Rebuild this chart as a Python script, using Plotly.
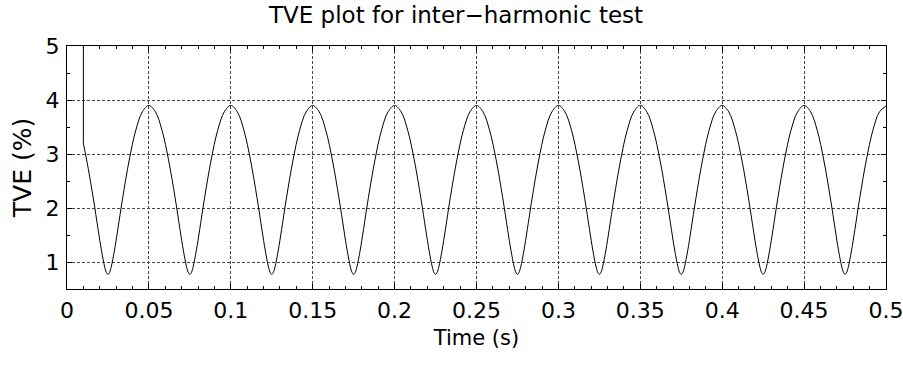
import plotly.graph_objects as go

# Values
start_t = [0.010, 0.010]
start_tve = [6.00, 3.19]

time_s = [
    0.010, 0.012, 0.016, 0.019, 0.021, 0.023, 0.024, 0.025, 0.026, 0.027, 0.029, 0.031, 0.034, 0.038, 0.042, 0.046,
    0.050, 0.054, 0.058, 0.062, 0.066, 0.069, 0.071, 0.073, 0.074, 0.075, 0.076, 0.077, 0.079, 0.081, 0.084, 0.088, 0.092, 0.096,
    0.100, 0.104, 0.108, 0.112, 0.116, 0.119, 0.121, 0.123, 0.124, 0.125, 0.126, 0.127, 0.129, 0.131, 0.134, 0.138, 0.142, 0.146,
    0.150, 0.154, 0.158, 0.162, 0.166, 0.169, 0.171, 0.173, 0.174, 0.175, 0.176, 0.177, 0.179, 0.181, 0.184, 0.188, 0.192, 0.196,
    0.200, 0.204, 0.208, 0.212, 0.216, 0.219, 0.221, 0.223, 0.224, 0.225, 0.226, 0.227, 0.229, 0.231, 0.234, 0.238, 0.242, 0.246,
    0.250, 0.254, 0.258, 0.262, 0.266, 0.269, 0.271, 0.273, 0.274, 0.275, 0.276, 0.277, 0.279, 0.281, 0.284, 0.288, 0.292, 0.296,
    0.300, 0.304, 0.308, 0.312, 0.316, 0.319, 0.321, 0.323, 0.324, 0.325, 0.326, 0.327, 0.329, 0.331, 0.334, 0.338, 0.342, 0.346,
    0.350, 0.354, 0.358, 0.362, 0.366, 0.369, 0.371, 0.373, 0.374, 0.375, 0.376, 0.377, 0.379, 0.381, 0.384, 0.388, 0.392, 0.396,
    0.400, 0.404, 0.408, 0.412, 0.416, 0.419, 0.421, 0.423, 0.424, 0.425, 0.426, 0.427, 0.429, 0.431, 0.434, 0.438, 0.442, 0.446,
    0.450, 0.454, 0.458, 0.462, 0.466, 0.469, 0.471, 0.473, 0.474, 0.475, 0.476, 0.477, 0.479, 0.481, 0.484, 0.488, 0.492, 0.496,
    0.500,
]

tve_pct = [
    3.19, 2.89, 2.19, 1.60, 1.22, 0.91, 0.81, 0.77, 0.81, 0.91, 1.22, 1.60, 2.19, 2.89, 3.44, 3.78,
    3.90, 3.78, 3.44, 2.89, 2.19, 1.60, 1.22, 0.91, 0.81, 0.77, 0.81, 0.91, 1.22, 1.60, 2.19, 2.89, 3.44, 3.78,
    3.90, 3.78, 3.44, 2.89, 2.19, 1.60, 1.22, 0.91, 0.81, 0.77, 0.81, 0.91, 1.22, 1.60, 2.19, 2.89, 3.44, 3.78,
    3.90, 3.78, 3.44, 2.89, 2.19, 1.60, 1.22, 0.91, 0.81, 0.77, 0.81, 0.91, 1.22, 1.60, 2.19, 2.89, 3.44, 3.78,
    3.90, 3.78, 3.44, 2.89, 2.19, 1.60, 1.22, 0.91, 0.81, 0.77, 0.81, 0.91, 1.22, 1.60, 2.19, 2.89, 3.44, 3.78,
    3.90, 3.78, 3.44, 2.89, 2.19, 1.60, 1.22, 0.91, 0.81, 0.77, 0.81, 0.91, 1.22, 1.60, 2.19, 2.89, 3.44, 3.78,
    3.90, 3.78, 3.44, 2.89, 2.19, 1.60, 1.22, 0.91, 0.81, 0.77, 0.81, 0.91, 1.22, 1.60, 2.19, 2.89, 3.44, 3.78,
    3.90, 3.78, 3.44, 2.89, 2.19, 1.60, 1.22, 0.91, 0.81, 0.77, 0.81, 0.91, 1.22, 1.60, 2.19, 2.89, 3.44, 3.78,
    3.90, 3.78, 3.44, 2.89, 2.19, 1.60, 1.22, 0.91, 0.81, 0.77, 0.81, 0.91, 1.22, 1.60, 2.19, 2.89, 3.44, 3.78,
    3.90, 3.78, 3.44, 2.89, 2.19, 1.60, 1.22, 0.91, 0.81, 0.77, 0.81, 0.91, 1.22, 1.60, 2.19, 2.89, 3.44, 3.78,
    3.89,
]

x_ticks = [0, 0.05, 0.1, 0.15, 0.2, 0.25, 0.3, 0.35, 0.4, 0.45, 0.5]
x_tick_labels = ["0", "0.05", "0.1", "0.15", "0.2", "0.25", "0.3", "0.35", "0.4", "0.45", "0.5"]
y_ticks = [1, 2, 3, 4, 5]
y_tick_labels = ["1", "2", "3", "4", "5"]

assert len(time_s) == len(tve_pct)

FONT = "DejaVu Sans, Arial, sans-serif"
GRID = "rgb(70,70,70)"

fig = go.Figure()
fig.add_trace(go.Scatter(x=start_t, y=start_tve, mode="lines",
                         line=dict(color="black", width=1), showlegend=False, hoverinfo="skip"))
fig.add_trace(go.Scatter(x=time_s, y=tve_pct, mode="lines",
                         line=dict(color="black", width=1, shape="spline", smoothing=1),
                         showlegend=False))

axis_common = dict(
    showline=True, linecolor="black", linewidth=1, mirror="allticks",
    ticks="inside", ticklen=5, tickwidth=1, tickcolor="black",
    showgrid=True, gridcolor=GRID, gridwidth=1, griddash="3px,2px",
    zeroline=False, tickfont=dict(family=FONT, size=22, color="black"),
    ticklabeloverflow="allow", automargin=False,
)

fig.update_xaxes(
    range=[0, 0.5], tickmode="array", tickvals=x_ticks, ticktext=x_tick_labels,
    minor=dict(dtick=0.01, ticks="inside", ticklen=3, tickcolor="black", showgrid=False),
    title=dict(text="Time (s)", font=dict(family=FONT, size=21, color="black"), standoff=7),
    ticklabelstandoff=2,
    **axis_common,
)
fig.update_yaxes(
    range=[0.5, 5], tickmode="array", tickvals=y_ticks, ticktext=y_tick_labels,
    minor=dict(dtick=0.5, tick0=0.5, ticks="inside", ticklen=3, tickcolor="black", showgrid=False),
    title=dict(text="TVE (%)", font=dict(family=FONT, size=25, color="black"), standoff=6),
    ticklabelstandoff=2,
    **axis_common,
)

fig.update_layout(
    width=903, height=365,
    margin=dict(l=67, r=17, t=46, b=76, autoexpand=False),
    paper_bgcolor="white", plot_bgcolor="white",
    title=dict(text="TVE plot for inter\u2212harmonic test", x=(456 - 67) / 819, xref="paper",
               xanchor="center", y=1 - 15 / 365, yanchor="middle",
               font=dict(family=FONT, size=23, color="black")),
    showlegend=False,
)

fig.write_html("out.html")
